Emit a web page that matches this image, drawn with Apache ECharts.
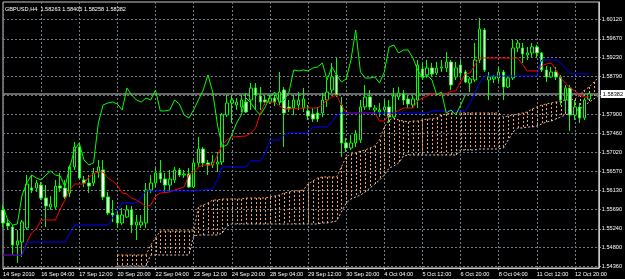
<!DOCTYPE html>
<html><head><meta charset="utf-8">
<script src="https://cdn.jsdelivr.net/npm/echarts@6/dist/echarts.min.js"></script>
<style>html,body{margin:0;padding:0;background:#000}#c{width:625px;height:279px}</style>
</head><body><div id="c"></div>
<script>
const symbolTitle = 'GBPUSD,H4';
const xTickLabels = ['14 Sep 2010','16 Sep 04:00','17 Sep 12:00','20 Sep 20:00','22 Sep 04:00','23 Sep 12:00','24 Sep 20:00','28 Sep 04:00','29 Sep 12:00','30 Sep 20:00','4 Oct 04:00','5 Oct 12:00','6 Oct 20:00','8 Oct 04:00','11 Oct 12:00','12 Oct 20:00'];
const yTickLabels = ['1.54360','1.54800','1.55240','1.55690','1.56130','1.56570','1.57020','1.57460','1.57900','1.58350','1.58790','1.59230','1.59670','1.60120'];
const currentPrice = 1.58382;

const opens = [
1.55678,1.55375,1.55282,1.54861,1.54931,1.55258,1.56190,1.56190,1.56260,1.55957,
1.55748,1.55748,1.56237,1.56190,1.56074,1.56681,1.57147,1.56377,1.56307,1.56307,
1.56564,1.56611,1.55981,1.55608,1.55561,1.55375,1.55515,1.55678,1.55328,1.55328,
1.55375,1.56144,1.56307,1.56541,1.56401,1.56260,1.56377,1.56611,1.56494,1.56518,
1.56214,1.56774,1.57100,1.56774,1.56727,1.56751,1.56797,1.57893,1.58173,1.58126,
1.58080,1.58196,1.58243,1.58522,1.58336,1.58243,1.58196,1.58289,1.58196,1.58476,
1.58080,1.58056,1.58126,1.58056,1.57987,1.57917,1.57940,1.57940,1.58243,1.58476,
1.58826,1.58126,1.57240,1.57123,1.57240,1.57310,1.58080,1.58313,1.58010,1.57963,
1.58010,1.58080,1.57847,1.58313,1.58383,1.58266,1.58126,1.58243,1.58966,1.58826,
1.58989,1.58873,1.58989,1.58989,1.59129,1.58780,1.59059,1.58896,1.58639,1.58709,
1.59176,1.59875,1.58709,1.58733,1.58756,1.58896,1.58546,1.58756,1.59456,1.59456,
1.59292,1.59339,1.59479,1.59339,1.58943,1.58780,1.58896,1.58780,1.58243,1.58522,
1.57893,1.58080,1.57823,1.58263];
const highs = [
1.55794,1.55445,1.55328,1.55211,1.55445,1.56494,1.56494,1.56377,1.56330,1.56260,
1.56004,1.56377,1.56541,1.56377,1.56727,1.57263,1.57240,1.56471,1.56494,1.56657,
1.56844,1.56844,1.56097,1.55911,1.55678,1.55724,1.55794,1.55771,1.55561,1.55561,
1.56307,1.56494,1.56681,1.56844,1.56541,1.56611,1.56681,1.56657,1.56611,1.56657,
1.56844,1.57380,1.57147,1.56844,1.56960,1.57030,1.57940,1.58359,1.58359,1.58289,
1.58359,1.58406,1.58639,1.58639,1.58546,1.58359,1.58359,1.58359,1.58896,1.58546,
1.58243,1.58359,1.58429,1.58522,1.58126,1.58056,1.58080,1.58406,1.58709,1.59106,
1.59222,1.58313,1.57356,1.57426,1.57543,1.58243,1.58592,1.58476,1.58126,1.58173,
1.58243,1.58243,1.58522,1.58546,1.58476,1.58359,1.58359,1.59176,1.59129,1.59176,
1.59106,1.59129,1.59176,1.59362,1.59176,1.59129,1.59176,1.58943,1.58780,1.59572,
1.60155,1.59922,1.58896,1.58826,1.59013,1.58943,1.58780,1.59642,1.59642,1.59572,
1.59479,1.59572,1.59525,1.59362,1.59036,1.59013,1.59013,1.58826,1.58592,1.58592,
1.58243,1.58173,1.58289,1.58405];
const lows = [
1.55282,1.55211,1.54628,1.54442,1.54582,1.55211,1.56074,1.56097,1.55911,1.55282,
1.55678,1.55701,1.56097,1.55934,1.55981,1.56611,1.56377,1.56214,1.56074,1.56237,
1.56424,1.55911,1.55561,1.55398,1.55258,1.55328,1.55491,1.55141,1.54978,1.55258,
1.55258,1.56074,1.56214,1.56307,1.56074,1.56097,1.56307,1.56448,1.56424,1.56190,
1.56190,1.56681,1.56681,1.56494,1.56657,1.56564,1.56727,1.57847,1.57707,1.58010,
1.57963,1.57940,1.58010,1.58010,1.58010,1.58126,1.58150,1.58103,1.58126,1.57147,
1.57963,1.57893,1.58010,1.57963,1.57777,1.57730,1.57730,1.57847,1.58080,1.58406,
1.58313,1.56914,1.57030,1.57077,1.57147,1.57240,1.58010,1.58010,1.57893,1.57847,
1.57893,1.57707,1.57823,1.58243,1.58126,1.58056,1.58056,1.58056,1.58709,1.58756,
1.58780,1.58826,1.58896,1.58896,1.58476,1.58709,1.58756,1.58639,1.58429,1.58662,
1.59106,1.58896,1.58243,1.58639,1.58662,1.58243,1.58522,1.58709,1.59362,1.59106,
1.59176,1.59246,1.59222,1.58896,1.58662,1.58756,1.58709,1.58126,1.57963,1.57520,
1.57777,1.57707,1.57777,1.58258];
const closes = [
1.55375,1.55305,1.54861,1.54955,1.55398,1.56284,1.56144,1.56307,1.55957,1.55771,
1.55818,1.56237,1.56190,1.55981,1.56681,1.57147,1.56424,1.56307,1.56237,1.56541,
1.56681,1.55981,1.55608,1.55561,1.55375,1.55561,1.55678,1.55328,1.55398,1.55398,
1.56144,1.56307,1.56541,1.56401,1.56260,1.56401,1.56611,1.56494,1.56518,1.56214,
1.56774,1.57100,1.56774,1.56727,1.56797,1.56797,1.57893,1.58173,1.58243,1.58196,
1.58243,1.57963,1.58522,1.58359,1.58196,1.58196,1.58289,1.58196,1.58429,1.57940,
1.58033,1.58243,1.58243,1.58266,1.57870,1.57800,1.57800,1.58243,1.58429,1.58780,
1.58359,1.57240,1.57123,1.57240,1.57450,1.58080,1.58313,1.58080,1.58056,1.58010,
1.58080,1.57847,1.58336,1.58406,1.58243,1.58150,1.58266,1.59059,1.58780,1.58989,
1.58850,1.58989,1.59013,1.59129,1.58592,1.58989,1.58873,1.58662,1.58733,1.59176,
1.59899,1.58943,1.58780,1.58780,1.58896,1.58546,1.58756,1.59456,1.59572,1.59316,
1.59339,1.59479,1.59339,1.58943,1.58780,1.58896,1.58780,1.58243,1.58522,1.57893,
1.58080,1.57823,1.58243,1.58382];

// Tenkan-sen (red), read as [bar, price] points
const tenkan = [[0,1.54628],[4,1.54628],[5,1.54931],[6,1.55141],[7,1.55234],[8,1.55445],[11,1.55445],[12,1.55701],[13,1.55911],[14,1.56144],[15,1.56284],[17,1.56284],[18,1.56448],[19,1.56518],[20,1.56564],[21,1.56564],[22,1.56424],[23,1.56354],[24,1.56260],[25,1.56074],[26,1.56051],[27,1.55957],[28,1.55911],[29,1.55841],[30,1.55748],[31,1.55794],[32,1.56004],[33,1.56074],[35,1.56097],[36,1.56144],[38,1.56214],[39,1.56494],[40,1.56564],[41,1.56681],[42,1.56727],[44,1.56727],[45,1.56960],[46,1.57193],[47,1.57310],[48,1.57380],[51,1.57403],[52,1.57473],[53,1.57590],[54,1.57940],[55,1.58196],[57,1.58196],[58,1.58103],[59,1.58033],[63,1.58056],[66,1.58056],[67,1.58126],[68,1.58243],[69,1.58313],[70,1.58359],[71,1.58126],[72,1.57940],[78,1.57940],[79,1.57753],[80,1.57753],[81,1.57893],[82,1.57940],[84,1.58056],[86,1.58056],[87,1.58220],[88,1.58289],[89,1.58336],[90,1.58383],[93,1.58383],[94,1.58453],[95,1.58453],[96,1.58662],[97,1.58850],[98,1.58873],[99,1.59059],[100,1.59222],[108,1.59222],[110,1.58920],[112,1.58920],[113,1.59036],[114,1.59083],[115,1.59106],[116,1.58943],[117,1.58756],[118,1.58639],[119,1.58522],[120,1.58453],[121,1.58359],[122,1.58313],[123,1.58313]];
// Kijun-sen (blue)
const kijun = [[0,1.54628],[4,1.54628],[5,1.54931],[13,1.54931],[15,1.55328],[22,1.55328],[25,1.55841],[28,1.55841],[30,1.56121],[40,1.56121],[44,1.56167],[45,1.56377],[46,1.56681],[51,1.56681],[52,1.56821],[54,1.56821],[55,1.57007],[56,1.57310],[58,1.57310],[59,1.57426],[60,1.57473],[64,1.57473],[65,1.57613],[68,1.57613],[69,1.57730],[70,1.57893],[71,1.57940],[89,1.57940],[90,1.57987],[97,1.57987],[98,1.58173],[99,1.58406],[100,1.58639],[101,1.58803],[112,1.58803],[113,1.59176],[116,1.59176],[117,1.59106],[118,1.58989],[119,1.58850],[123,1.58850]];
// Chikou span (lime), bars 0..97
const chikou = [1.55748,1.55445,1.55328,1.55351,1.56027,1.56307,1.56494,1.56424,1.56377,1.56494,
1.56588,1.56494,1.56471,1.56214,1.56681,1.57077,1.57240,1.56844,1.56727,1.56774,
1.57707,1.58126,1.58173,1.58196,1.58150,1.58010,1.58522,1.58359,1.58243,1.58196,
1.58289,1.58243,1.58476,1.57987,1.57987,1.58010,1.58243,1.58150,1.57893,1.57823,
1.58010,1.58243,1.58476,1.58826,1.58429,1.57660,1.57147,1.57194,1.57426,1.57707,
1.57893,1.58289,1.58173,1.58010,1.57893,1.58080,1.58313,1.58429,1.58173,1.58243,
1.58429,1.58943,1.58920,1.58943,1.58920,1.58989,1.59013,1.59106,1.58709,1.59013,
1.58826,1.58662,1.58733,1.59176,1.59875,1.58896,1.58756,1.58756,1.58780,1.58639,
1.58896,1.59479,1.59525,1.59339,1.59409,1.59409,1.59222,1.58943,1.58756,1.58826,
1.58709,1.58359,1.58429,1.57940,1.58010,1.57893,1.58126,1.58359];
// Senkou span A (sandy brown) and B (thistle), bars 0..125
const spanA = [null,null,null,null,null,null,null,null,null,null,null,null,null,null,null,null,null,null,null,null,null,null,null,null,
1.54628,1.54628,1.54628,1.54628,1.54628,1.54628,1.54628,1.54861,1.55025,
1.55188,1.55188,1.55188,1.55188,1.55188,1.55188,1.55188,1.55188,
1.55748,1.55794,1.55841,1.55911,1.55911,
1.55934,1.55934,1.55934,1.55934,1.55934,
1.55957,1.55957,1.55957,1.55957,1.55957,
1.55981,1.56004,1.56027,1.56074,1.56097,1.56121,1.56121,1.56144,
1.56284,1.56354,1.56424,1.56448,1.56448,1.56448,1.56448,
1.56681,1.56914,1.56984,1.57007,1.57054,1.57077,1.57124,1.57170,1.57310,1.57613,1.57777,1.57823,
1.57777,1.57753,1.57730,1.57753,1.57753,1.57777,1.57800,1.57800,1.57823,1.57893,1.57917,
1.57940,1.57940,1.57940,1.57940,1.57940,1.57940,1.57940,1.57940,1.57940,1.57940,1.57940,
1.57847,1.57870,1.57893,1.57917,1.57940,1.57963,1.58033,1.58080,1.58126,1.58150,1.58173,1.58196,1.58220,1.58243,1.58243,1.58266,1.58359,1.58476,1.58546,1.58662,1.58780];
const spanB = [null,null,null,null,null,null,null,null,null,null,null,null,null,null,null,null,null,null,null,null,null,null,null,null,
1.54372,1.54372,1.54372,1.54372,1.54372,1.54372,1.54372,
1.54628,1.54628,1.54628,1.54628,1.54628,1.54628,1.54628,1.54628,1.54628,
1.55071,1.55095,1.55095,1.55095,1.55095,1.55095,1.55141,1.55305,
1.55351,1.55351,1.55351,1.55351,1.55351,1.55351,1.55351,1.55351,1.55351,1.55351,
1.55351,1.55351,1.55351,1.55351,1.55351,1.55351,1.55351,1.55351,1.55351,
1.55375,1.55375,1.55398,1.55421,
1.55631,1.55841,1.55934,1.55981,1.56027,1.56097,1.56191,1.56284,1.56377,1.56494,1.56657,1.56704,1.56774,1.56937,
1.56960,1.56960,1.56960,1.56960,1.56960,1.56960,1.56960,1.56960,1.56960,1.56960,1.56960,
1.57077,1.57077,1.57077,1.57077,1.57100,1.57100,1.57100,1.57100,1.57100,
1.57124,1.57310,1.57497,1.57590,1.57590,1.57613,1.57613,1.57637,1.57683,1.57730,1.57753,1.57800,1.57847,1.57893,1.57940,1.57987,1.58033,1.58103,1.58196,1.58266,1.58359];

const N = spanA.length;
const categories = [];
for (let i = 0; i < N; i++) categories.push(String(i));
const candleData = opens.map((o, i) => [o, closes[i], lows[i], highs[i]]);
const cloudData = [];
for (let i = 0; i < N; i++) if (spanA[i] != null && spanB[i] != null) cloudData.push([i, spanA[i], spanB[i]]);
const last = opens.length - 1;
const titleText = symbolTitle + '  ' + [opens[last], highs[last], lows[last], closes[last]].map(v => v.toFixed(5)).join(' ');
const yTickValues = yTickLabels.map(Number);
const yLabelValues = yTickValues.filter(v => Math.abs(v - currentPrice) > 0.001);
const bidLine = [[0, currentPrice], [N - 1, currentPrice]];

const FONT = 'Liberation Sans';
const FS = 5.6;
const gridColor = '#6f7c8a';
const frameColor = '#c8c8c8';
const every8 = (i) => i % 8 === 0;

const chart = echarts.init(document.getElementById('c'), null, {renderer: 'canvas'});
chart.setOption({
  animation: false,
  backgroundColor: '#000000',
  textStyle: {fontFamily: FONT},
  grid: {left: 2, right: 24, top: 2, bottom: 11, show: true, borderColor: frameColor, borderWidth: 1, backgroundColor: '#000'},
  graphic: [{type: 'text', left: 5, top: 6, z: 100, style: {text: titleText, fill: '#ffffff', font: FS + 'px "' + FONT + '"'}}],
  xAxis: {
    type: 'category', data: categories, boundaryGap: false,
    axisLine: {lineStyle: {color: frameColor}},
    axisTick: {show: true, length: 2, interval: every8, lineStyle: {color: frameColor}},
    axisLabel: {interval: every8, formatter: (v, i) => xTickLabels[i / 8] || '', color: '#ffffff', fontSize: FS, fontFamily: FONT, align: 'left', margin: 3},
    splitLine: {show: true, interval: every8, lineStyle: {color: gridColor, type: [2, 2], width: 1}}
  },
  yAxis: {
    type: 'value', position: 'right', min: 1.54325, max: 1.60528, scale: true,
    axisLine: {show: true, lineStyle: {color: frameColor}},
    axisTick: {show: true, length: 2, customValues: yTickValues, lineStyle: {color: frameColor}},
    axisLabel: {customValues: yLabelValues, formatter: (v) => { const s = yTickLabels.find(t => Math.abs(Number(t) - v) < 1e-7); return s || ''; }, color: '#ffffff', fontSize: FS, fontFamily: FONT, margin: 3},
    splitLine: {show: true, lineStyle: {color: gridColor, type: [2, 2], width: 1}}
  },
  series: [
    {type: 'custom', name: 'cloud', data: cloudData, clip: true, z: 1, silent: true,
     encode: {x: 0, y: [1, 2]},
     renderItem: (params, api) => {
       const i = api.value(0), a = api.value(1), b = api.value(2);
       const p1 = api.coord([i, a]), p2 = api.coord([i, b]);
       const x = Math.round(p1[0]) + 0.5;
       return {type: 'line', shape: {x1: x, y1: p1[1], x2: x, y2: p2[1]},
               style: {stroke: a >= b ? '#f4a460' : '#d8bfd8', lineWidth: 1, lineDash: [2, 2]}};
     }},
    {type: 'line', name: 'Senkou A', data: spanA, symbol: 'none', z: 2, silent: true,
     lineStyle: {color: '#f4a460', width: 1, type: [2, 2]}},
    {type: 'line', name: 'Senkou B', data: spanB, symbol: 'none', z: 2, silent: true,
     lineStyle: {color: '#d8bfd8', width: 1, type: [2, 2]}},
    {type: 'line', name: 'Bid', data: bidLine, symbol: 'none', z: 2, silent: true,
     lineStyle: {color: '#8a8a8a', width: 1.5},
     endLabel: {show: true, formatter: currentPrice.toFixed(5), backgroundColor: '#ffffff', color: '#000000',
                fontSize: FS, fontFamily: FONT, padding: [1, 2, 1, 2], distance: 2}},
    {type: 'candlestick', name: 'GBPUSD', data: candleData, barWidth: 3, z: 3, silent: true,
     itemStyle: {color: '#000000', color0: '#ffffff', borderColor: '#00ff00', borderColor0: '#00ff00', borderWidth: 1}},
    {type: 'line', name: 'Tenkan', data: tenkan, symbol: 'none', z: 4, silent: true, lineStyle: {color: '#ff0000', width: 1}},
    {type: 'line', name: 'Kijun', data: kijun, symbol: 'none', z: 4, silent: true, lineStyle: {color: '#0000ff', width: 1}},
    {type: 'line', name: 'Chikou', data: chikou, symbol: 'none', z: 4, silent: true, lineStyle: {color: '#00ff00', width: 1}}
  ]
});
</script></body></html>
